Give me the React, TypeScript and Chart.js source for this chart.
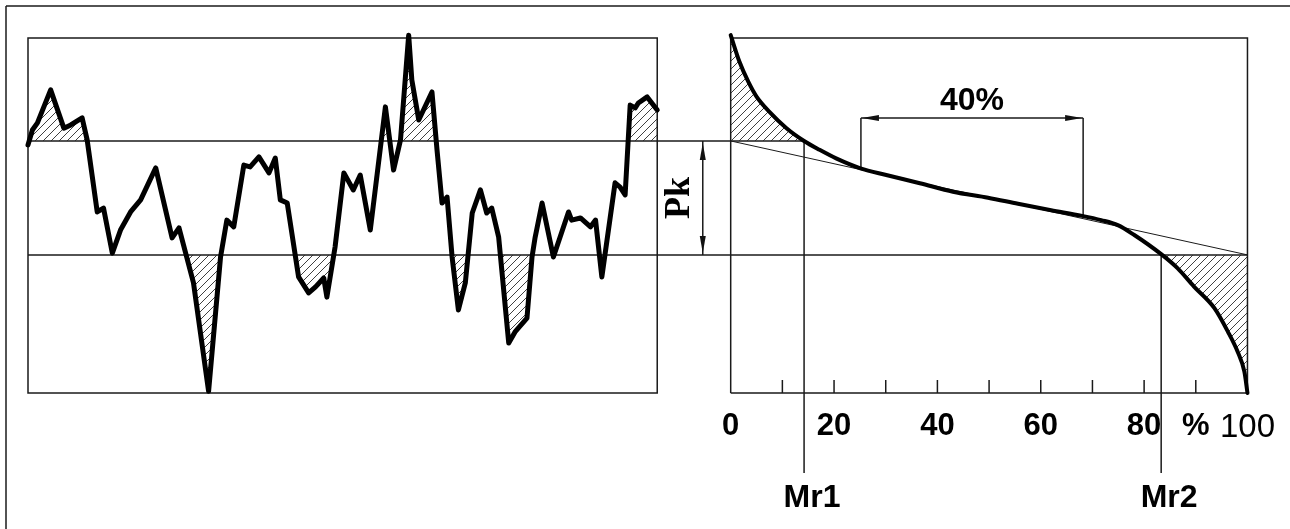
import React, { useEffect, useRef } from 'react';
import { Chart, registerables } from 'chart.js';

Chart.register(...registerables);

// ---- Profile trace (left): position along the trace (0–100) and height (0–100)
const profileX = [
  0, 0.7, 1.5, 3.6, 5.7, 6.8, 8.6, 9.4, 11.0, 12.0,
  13.4, 14.7, 16.3, 17.9, 20.3, 22.9, 24.0, 26.3, 28.7, 30.6,
  31.6, 32.7, 34.3, 35.3, 36.7, 38.3, 39.3, 40.1, 41.2, 43.0,
  44.6, 45.7, 47.0, 47.5, 48.8, 50.2, 51.7, 52.8, 54.4, 56.8,
  58.1, 59.2, 60.5, 61.0, 62.1, 64.2, 65.0, 65.8, 66.6, 67.4,
  68.4, 69.5, 70.6, 71.9, 72.9, 73.7, 74.8, 76.4, 77.4, 79.3,
  80.1, 80.6, 80.9, 81.7, 83.5, 85.9, 86.4, 87.8, 89.4, 90.2,
  91.2, 93.3, 94.1, 94.9, 95.7, 96.5, 97.0, 98.4, 100,
];
const profileY = [
  69.9, 74.1, 76.1, 85.4, 74.6, 75.5, 77.5, 71.3, 51.0, 52.1,
  39.4, 45.9, 51.0, 54.4, 63.4, 43.7, 46.5, 31.0, 0.5, 38.3,
  48.7, 46.8, 64.2, 63.7, 66.5, 62.0, 66.2, 54.4, 53.5, 32.7,
  28.2, 29.9, 32.4, 27.0, 41.1, 62.0, 57.2, 61.4, 45.9, 80.6,
  62.8, 71.3, 100.8, 88.2, 76.9, 84.8, 68.5, 53.5, 55.2, 38.3,
  23.4, 31.0, 50.7, 57.2, 50.7, 52.1, 43.9, 14.1, 17.2, 21.1,
  38.3, 43.9, 46.5, 53.5, 38.3, 51.0, 48.7, 49.3, 46.8, 48.7,
  32.7, 59.2, 58.0, 55.8, 81.1, 80.3, 81.7, 83.4, 79.7,
];

// ---- Bearing (Abbott) curve (right): material ratio % and height
const bearingX = [
  0, 1.7, 3.4, 5.0, 7.5, 10.8, 14.2, 17.2, 20.4, 25.1,
  30.1, 36.6, 43.0, 49.8, 55.6, 62.0, 68.0, 71.7, 74.9, 78.1,
  83.3, 86.5, 89.7, 93.6, 96.2, 98.1, 99.4, 100,
];
const bearingY = [
  100.8, 93.3, 87.7, 83.5, 79.2, 74.6, 71.0, 68.5, 66.1, 63.3,
  61.4, 59.1, 56.7, 55.0, 53.3, 51.5, 49.9, 48.7, 47.3, 44.5,
  39.1, 35.1, 29.9, 23.9, 17.3, 11.6, 6.0, 0,
];

// ---- Reference levels and annotations
const levelValues = [71.0, 38.9]; // upper / lower Pk limits
const mrValues = [14.2, 83.3];
const mrLabels = ['Mr1', 'Mr2'];
const bracketX = [25.2, 68.2];
const bracketLevel = 77.5;
const bracketLabel = '40%';
const pkLabel = 'Pk';

// ---- Axis tick labels of the material-ratio axis
const tickValues = [0, 20, 40, 60, 80, 90, 100];
const tickTexts = ['0', '20', '40', '60', '80', '%', '100'];

function interp(xs: number[], ys: number[], x: number) {
  for (let i = 1; i < xs.length; i++) {
    if (x <= xs[i]) {
      const t = (x - xs[i - 1]) / (xs[i] - xs[i - 1]);
      return ys[i - 1] + t * (ys[i] - ys[i - 1]);
    }
  }
  return ys[ys.length - 1];
}

function seg(ctx: any, x1: number, y1: number, x2: number, y2: number) {
  ctx.beginPath();
  ctx.moveTo(x1, y1);
  ctx.lineTo(x2, y2);
  ctx.stroke();
}

function arrowHead(ctx: any, tx: number, ty: number, dx: number, dy: number, len = 17, half = 3) {
  const px = -dy, py = dx;
  const bx = tx - dx * len, by = ty - dy * len;
  ctx.beginPath();
  ctx.moveTo(tx, ty);
  ctx.lineTo(bx + px * half, by + py * half);
  ctx.lineTo(bx - px * half, by - py * half);
  ctx.closePath();
  ctx.fill();
}

const drawingPlugin = {
  id: 'profileDrawing',
  beforeDatasetsDraw(chart: any) {
    const { ctx } = chart;
    const { xp, xg, xb, y } = chart.scales;
    const top = y.top, bottom = y.bottom;
    const yU = y.getPixelForValue(levelValues[0]);
    const yL = y.getPixelForValue(levelValues[1]);
    ctx.save();
    ctx.strokeStyle = '#1a1a1a';
    ctx.fillStyle = '#111';
    ctx.lineWidth = 1.5;

    // frame of the figure (top and left)
    seg(ctx, 6, chart.height, 6, 6);
    seg(ctx, 6, 6, chart.width, 6);

    // left box
    ctx.strokeRect(xp.left, top, xp.right - xp.left, bottom - top);

    // right box
    ctx.beginPath();
    ctx.moveTo(xb.left, bottom);
    ctx.lineTo(xb.left, top);
    ctx.lineTo(xb.right, top);
    ctx.lineTo(xb.right, bottom);
    ctx.lineTo(xb.left, bottom);
    ctx.stroke();

    // tick marks on the % axis (pointing inside)
    xb.ticks.forEach((t: any) => {
      if (t.value > 0 && t.value < 100) {
        const px = xb.getPixelForValue(t.value);
        seg(ctx, px, bottom, px, bottom - 13);
      }
    });

    // level lines
    seg(ctx, xp.left, yU, xb.getPixelForValue(mrValues[0]), yU);
    seg(ctx, xp.left, yL, xb.right, yL);

    // Mr verticals
    seg(ctx, xb.getPixelForValue(mrValues[0]), yU, xb.getPixelForValue(mrValues[0]), bottom + 80);
    seg(ctx, xb.getPixelForValue(mrValues[1]), yL, xb.getPixelForValue(mrValues[1]), bottom + 80);

    // secant line
    ctx.lineWidth = 1;
    seg(ctx, xb.getPixelForValue(0), yU, xb.getPixelForValue(100), yL);

    // 40% bracket
    ctx.lineWidth = 1.5;
    const yB = y.getPixelForValue(bracketLevel);
    const bx0 = xb.getPixelForValue(bracketX[0]);
    const bx1 = xb.getPixelForValue(bracketX[1]);
    seg(ctx, bx0, yB, bx0, y.getPixelForValue(interp(bearingX, bearingY, bracketX[0])));
    seg(ctx, bx1, yB, bx1, y.getPixelForValue(interp(bearingX, bearingY, bracketX[1])));
    seg(ctx, bx0, yB, bx1, yB);
    arrowHead(ctx, bx0 + 1, yB, -1, 0);
    arrowHead(ctx, bx1 - 1, yB, 1, 0);

    // Pk dimension arrow
    const xA = xg.getPixelForValue(0.62);
    seg(ctx, xA, yU, xA, yL);
    arrowHead(ctx, xA, yU + 2, 0, -1);
    arrowHead(ctx, xA, yL - 2, 0, 1);
    ctx.restore();
  },
  afterDatasetsDraw(chart: any) {
    const { ctx } = chart;
    const { xg, xb, y } = chart.scales;
    const bottom = y.bottom;
    ctx.save();
    ctx.fillStyle = '#000';

    // 40% label
    ctx.font = 'bold 32px "Liberation Sans", Arial, sans-serif';
    ctx.textAlign = 'center';
    ctx.textBaseline = 'alphabetic';
    const yB = y.getPixelForValue(bracketLevel);
    const mid = (xb.getPixelForValue(bracketX[0]) + xb.getPixelForValue(bracketX[1])) / 2;
    ctx.fillText(bracketLabel, mid, yB - 8);

    // Mr labels
    mrValues.forEach((v, i) => {
      ctx.fillText(mrLabels[i], xb.getPixelForValue(v) + 8, bottom + 114);
    });

    // Pk label (rotated)
    const yU = y.getPixelForValue(levelValues[0]);
    const yL = y.getPixelForValue(levelValues[1]);
    ctx.translate(xg.getPixelForValue(0.31), (yU + yL) / 2);
    ctx.rotate(-Math.PI / 2);
    ctx.font = 'bold 36px "Liberation Serif", "Times New Roman", serif';
    ctx.textBaseline = 'middle';
    ctx.fillText(pkLabel, 0, 0);
    ctx.restore();
  },
};

function makeHatch(): any {
  const c = document.createElement('canvas');
  const s = 8;
  c.width = s;
  c.height = s;
  const g = c.getContext('2d') as CanvasRenderingContext2D;
  g.strokeStyle = '#2a2a2a';
  g.lineWidth = 0.9;
  g.beginPath();
  g.moveTo(0, s);
  g.lineTo(s, 0);
  g.moveTo(-1, 1);
  g.lineTo(1, -1);
  g.moveTo(s - 1, s + 1);
  g.lineTo(s + 1, s - 1);
  g.stroke();
  return g.createPattern(c, 'repeat');
}

export default function App() {
  const canvasRef = useRef<HTMLCanvasElement | null>(null);

  useEffect(() => {
    const canvas = canvasRef.current;
    if (!canvas) return;
    const hatch = makeHatch();
    const none = 'rgba(0,0,0,0)';
    const profilePts = profileX.map((x, i) => ({ x, y: profileY[i] }));
    const bearingPts = bearingX.map((x, i) => ({ x, y: bearingY[i] }));

    const chart = new Chart(canvas, {
      type: 'line',
      data: {
        datasets: [
          {
            label: 'Profile',
            data: profilePts,
            xAxisID: 'xp',
            yAxisID: 'y',
            borderColor: '#000',
            borderWidth: 5,
            borderJoinStyle: 'round',
            borderCapStyle: 'round',
            pointRadius: 0,
            tension: 0,
            clip: false,
            fill: { target: { value: levelValues[0] }, above: hatch, below: none },
          },
          {
            label: 'Profile valleys',
            data: profilePts,
            xAxisID: 'xp',
            yAxisID: 'y',
            borderColor: none,
            borderWidth: 1,
            pointRadius: 0,
            tension: 0,
            fill: { target: { value: levelValues[1] }, above: none, below: hatch },
          },
          {
            label: 'Bearing curve',
            data: bearingPts,
            xAxisID: 'xb',
            yAxisID: 'y',
            borderColor: '#000',
            borderWidth: 4,
            borderCapStyle: 'round',
            pointRadius: 0,
            cubicInterpolationMode: 'monotone',
            clip: false,
            fill: { target: { value: levelValues[0] }, above: hatch, below: none },
          },
          {
            label: 'Bearing valleys',
            data: bearingPts,
            xAxisID: 'xb',
            yAxisID: 'y',
            borderColor: none,
            borderWidth: 1,
            pointRadius: 0,
            cubicInterpolationMode: 'monotone',
            fill: { target: { value: levelValues[1] }, above: none, below: hatch },
          },
        ],
      },
      options: {
        responsive: false,
        animation: false,
        events: [],
        layout: { padding: { left: 28, top: 38, right: 42, bottom: 76 } },
        plugins: { legend: { display: false }, tooltip: { enabled: false } },
        scales: {
          xp: {
            type: 'linear', position: 'bottom', stack: 'row', stackWeight: 629.5, weight: 1,
            min: 0, max: 100, display: false,
          },
          xg: {
            type: 'linear', position: 'bottom', stack: 'row', stackWeight: 73.5, weight: 2,
            min: 0, max: 1, display: false,
          },
          xb: {
            type: 'linear', position: 'bottom', stack: 'row', stackWeight: 517, weight: 3,
            min: 0, max: 100,
            grid: { display: false, drawTicks: false },
            border: { display: false },
            afterFit: (scale: any) => { scale.height = 60; },
            ticks: {
              stepSize: 10,
              autoSkip: false,
              maxRotation: 0,
              minRotation: 0,
              padding: 15,
              color: '#000',
              callback: (v: any) => {
                const i = tickValues.indexOf(Number(v));
                return i >= 0 ? tickTexts[i] : '';
              },
              font: (c: any) =>
                c.tick && c.tick.value === 100
                  ? { family: '"Liberation Sans", Arial, sans-serif', size: 33, weight: 'normal' }
                  : { family: '"Liberation Sans", Arial, sans-serif', size: 31, weight: 'bold' },
            },
          },
          y: { type: 'linear', min: 0, max: 100, display: false },
        },
      } as any,
      plugins: [drawingPlugin],
    } as any);

    return () => chart.destroy();
  }, []);

  return (
    <div style={{ position: 'absolute', left: 0, top: 0, width: 1290, height: 529, background: '#fff' }}>
      <canvas ref={canvasRef} width={1290} height={529} style={{ width: 1290, height: 529 }} />
    </div>
  );
}
